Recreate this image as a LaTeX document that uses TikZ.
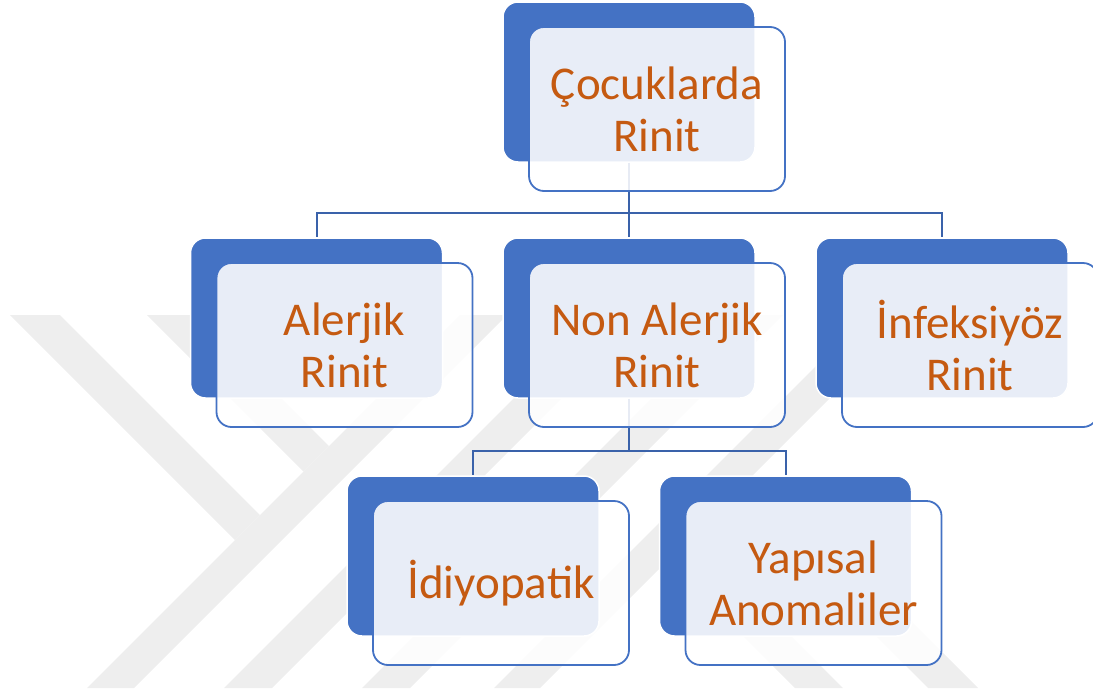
\documentclass[tikz,border=0pt]{standalone}
\usepackage{fontspec}
\setmainfont{Carlito}
\usetikzlibrary{calc}
\definecolor{accblue}{HTML}{4472C4}
\definecolor{lineblue}{HTML}{3A62AA}
\definecolor{txtorange}{HTML}{C55A11}
\definecolor{wmgray}{HTML}{EEEEEE}
\begin{document}
\begin{tikzpicture}[x=1pt,y=-1pt,
  backbox/.style={rectangle, rounded corners=15pt, fill=accblue, draw=white,
    line width=1.5pt, minimum width=252pt, minimum height=160pt, inner sep=0pt},
  frontbox/.style={rectangle, rounded corners=15pt, fill=white, fill opacity=0.88,
    text opacity=1, draw=accblue, draw opacity=1, line width=1.8pt,
    minimum width=256pt, minimum height=164pt, align=center, text=txtorange,
    font=\fontsize{47}{52}\selectfont, inner sep=0pt},
  conn/.style={draw=lineblue, line width=2pt},
  wm/.style={fill=wmgray}]
\useasboundingbox (0,0) rectangle (1093,691);
\clip (0,0) rectangle (1093,691);
% watermark
\fill[wm] (10,315) -- (60,315) -- (260,515) -- (235,540) -- cycle;
\fill[wm] (147,315) -- (198,315) -- (329,446) -- (303.5,471.5) -- cycle;
\fill[wm] (87,688) -- (134,688) -- (507,315) -- (460,315) -- cycle;
\fill[wm] (224,688) -- (272,688) -- (645,315) -- (597,315) -- cycle;
\fill[wm] (362,688) -- (410,688) -- (783,315) -- (735,315) -- cycle;
\fill[wm] (494,688) -- (540,688) -- (913,315) -- (867,315) -- cycle;
\fill[wm] (667,560) -- (715,560) -- (843,688) -- (795,688) -- cycle;
\fill[wm] (800,560) -- (850,560) -- (978,688) -- (928,688) -- cycle;
% back boxes
\node[backbox] (b1) at (629,82) {};
\node[backbox] (b2) at (316.5,318) {};
\node[backbox] (b3) at (629,318) {};
\node[backbox] (b4) at (942,318) {};
\node[backbox] (b5) at (473,556) {};
\node[backbox] (b6) at (785.5,556) {};
% connectors
\coordinate (j1) at (629,213);
\coordinate (j2) at (629,451);
\draw[conn] (b1.south) -- (j1);
\draw[conn] (j1) -| (b2.north);
\draw[conn] (j1) -- (b3.north);
\draw[conn] (j1) -| (b4.north);
\draw[conn] (b3.south) -- (j2);
\draw[conn] (j2) -| (b5.north);
\draw[conn] (j2) -| (b6.north);
% front boxes
\node[frontbox] (f1) at ($(b1)+(28,27)$) {Çocuklarda\\Rinit};
\node[frontbox] (f2) at ($(b2)+(28,27)$) {Alerjik\\Rinit};
\node[frontbox] (f3) at ($(b3)+(28,27)$) {Non Alerjik\\Rinit};
\node[frontbox] (f4) at ($(b4)+(28,27)$) {İnfeksiyöz\\Rinit};
\node[frontbox] (f5) at ($(b5)+(28,27)$) {İdiyopatik};
\node[frontbox] (f6) at ($(b6)+(28,27)$) {Yapısal\\Anomaliler};
\end{tikzpicture}
\end{document}
